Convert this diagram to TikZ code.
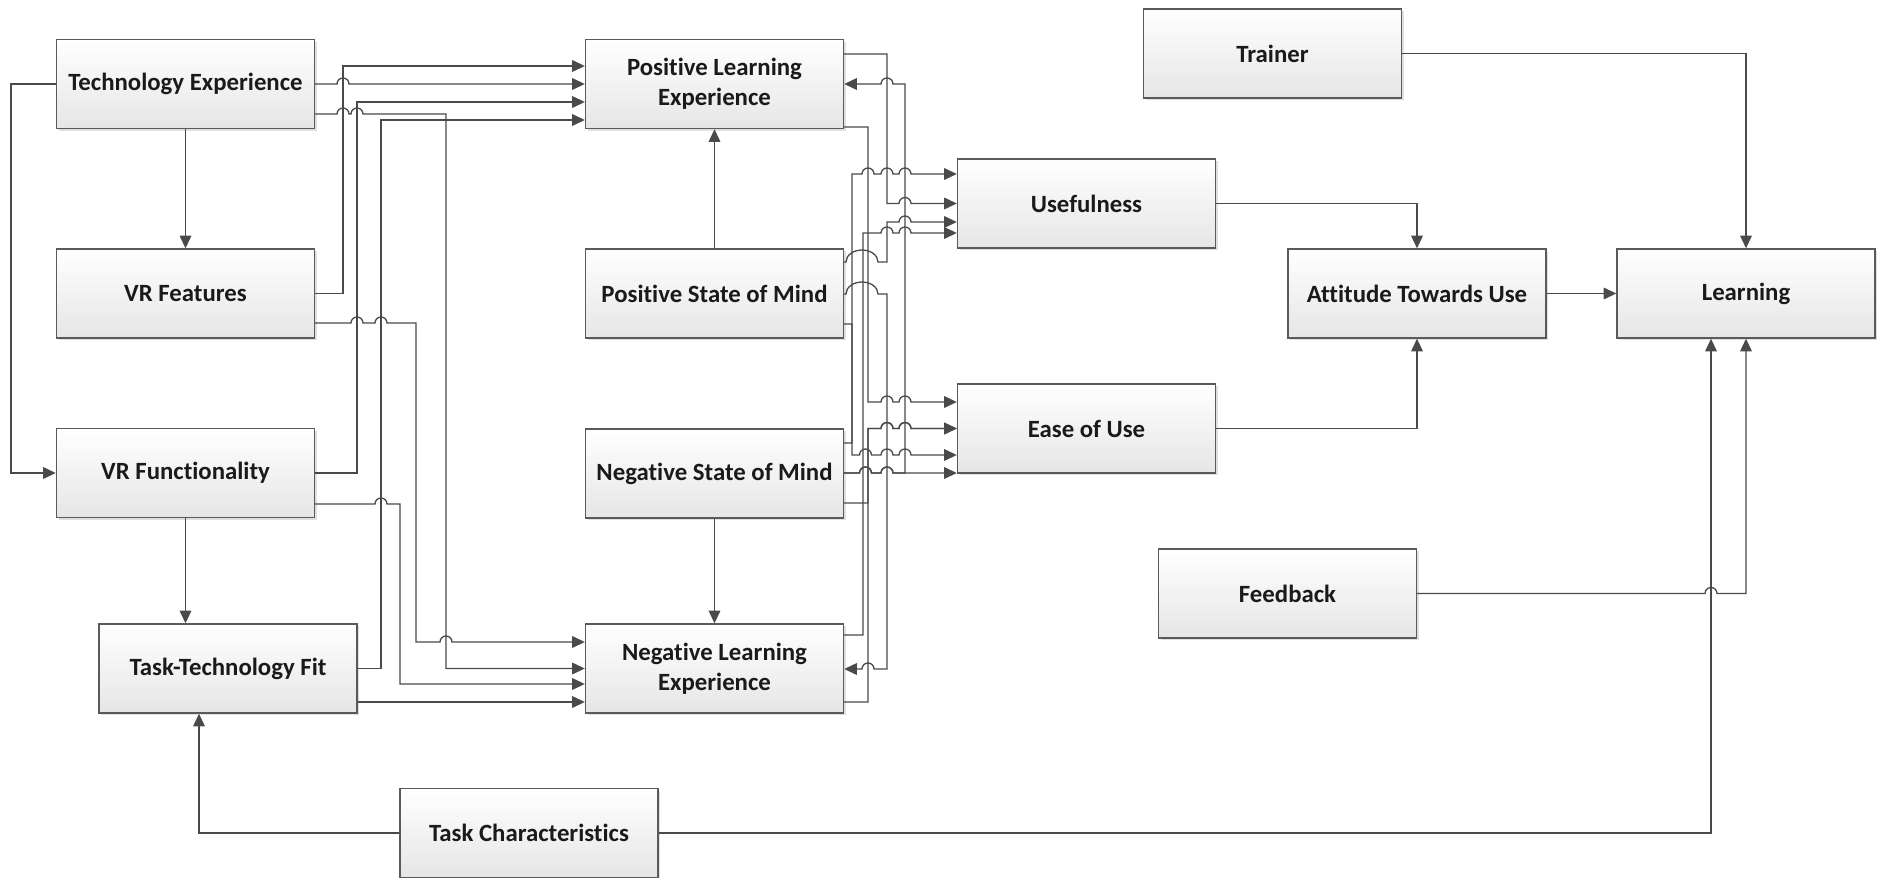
\documentclass[tikz,border=0pt]{standalone}
\usepackage{fontspec}
\setmainfont{Carlito}[Ligatures=NoCommon]
\usetikzlibrary{arrows.meta,shadows,calc}

\definecolor{linec}{HTML}{4A4A4A}
\definecolor{boxc}{HTML}{5A5A5A}
\definecolor{textc}{HTML}{1A1A1A}

\tikzset{
  box/.style={draw=boxc, line width=0.7pt, top color=white, bottom color=black!10,
    minimum width=129pt, minimum height=44.5pt, inner sep=0pt, align=center,
    text=textc, font=\bfseries\fontsize{12.4}{15}\selectfont,
    drop shadow={shadow xshift=1pt, shadow yshift=-1.2pt, opacity=0.2, fill=black!60}},
  conn/.style={draw=linec, line width=0.65pt},
  arr/.style={conn, -{Triangle[length=6.3pt,width=5.8pt]}},
  % line jumps over a crossing connector
  hop/.style={insert path={arc[start angle=180,end angle=0,radius=3pt]}},
  hopl/.style={insert path={arc[start angle=0,end angle=180,radius=3pt]}},
  bighop/.style={insert path={arc[start angle=180,end angle=0,x radius=8pt,y radius=6pt]}},
}

\begin{document}
\begin{tikzpicture}[x=0.5pt,y=-0.5pt]
\useasboundingbox (0,0) rectangle (1885,878);
\fill[white] (0,0) rectangle (1885,878);

% boxes
\node[box] (te)      at (185.5,84)    {Technology Experience};
\node[box] (vrf)     at (185.5,293.5) {VR Features};
\node[box] (vrfunc)  at (185.5,473)   {VR Functionality};
\node[box] (ttf)     at (228,668.5)   {Task-Technology Fit};
\node[box] (tc)      at (529,833)     {Task Characteristics};
\node[box] (ple)     at (714.5,84)    {Positive Learning\\Experience};
\node[box] (psom)    at (714.5,293.5) {Positive State of Mind};
\node[box] (nsom)    at (714.5,473.5) {Negative State of Mind};
\node[box] (nle)     at (714.5,668.5) {Negative Learning\\Experience};
\node[box] (use)     at (1086.5,203.5){Usefulness};
\node[box] (ease)    at (1086.5,428.5){Ease of Use};
\node[box] (trainer) at (1272.5,53.5) {Trainer};
\node[box] (att)     at (1417,293.5)  {Attitude Towards Use};
\node[box] (learn)   at (1746,293.5)  {Learning};
\node[box] (fb)      at (1287.5,593.5){Feedback};

% left group
\draw[arr] (te.west) -- (11,84) |- (vrfunc.west);
\draw[arr] (te.south) -- (vrf.north);
\draw[arr] (te.east) -- (337,84) [hop] -- (ple.west);
\draw[arr] (vrf.east) -- (343,293.5) -- (343,66) -- (ple.west |- 0,66);
\draw[arr] (vrfunc.east) -- (357,473) -- (357,102) -- (ple.west |- 0,102);
\draw[arr] (ttf.east) -- (381,668.5) -- (381,120) -- (ple.west |- 0,120);
\draw[arr] (te.east |- 0,114) -- (337,114) [hop] -- (351,114) [hop] -- (446,114) |- (nle.west);
\draw[arr] (vrf.east |- 0,323) -- (351,323) [hop] -- (375,323) [hop] -- (416,323)
  -- (416,642) -- (440,642) [hop] -- (nle.west |- 0,642);
\draw[arr] (vrfunc.east |- 0,504) -- (375,504) [hop] -- (400,504) |- (nle.west |- 0,684);
\draw[arr] (ttf.east |- 0,702) -- (nle.west |- 0,702);
\draw[arr] (vrfunc.south) -- (vrfunc.south |- ttf.north);
\draw[arr] (tc.west) -| ([xshift=-14.5pt]ttf.south);

% state of mind to learning experience
\draw[arr] (psom.north) -- (ple.south);
\draw[arr] (nsom.south) -- (nle.north);

% middle group
\draw[arr] (ple.east |- 0,54) -- (887,54) -- (887,203.5) -- (899,203.5) [hop] -- (use.west);
\draw[arr] (nsom.east |- 0,473) -- (859.5,473) [hop] -- (881,473) [hop] -- (905,473)
  -- (905,84) -- (893,84) [hopl] -- (ple.east);
\draw[arr] (ple.east |- 0,127) -- (868,127) -- (868,402) -- (881,402) [hop] -- (899,402) [hop]
  -- (ease.west |- 0,402);
\draw[arr] (nsom.east |- 0,443) -- (852,443) -- (852,174) -- (862,174) [hop] -- (881,174) [hop]
  -- (899,174) [hop] -- (use.west |- 0,174);
\draw[arr] (psom.east |- 0,262) -- (846,262) [bighop] -- (887,262) -- (887,222) -- (899,222) [hop]
  -- (use.west |- 0,222);
\draw[arr] (nle.east |- 0,635) -- (863,635) -- (863,233) -- (881,233) [hop] -- (899,233) [hop]
  -- (use.west |- 0,233);
\draw[arr] (psom.east |- 0,294) -- (846,294) [bighop] -- (887,294) -- (887,669) -- (874,669) [hopl]
  -- (nle.east |- 0,669);
\draw[arr] (psom.east |- 0,324) -- (852,324) -- (852,455) -- (859.5,455) [hop] -- (881,455) [hop]
  -- (899,455) [hop] -- (ease.west |- 0,455);
\draw[arr] (nsom.east |- 0,473) -- (859.5,473) [hop] -- (881,473) [hop] -- (ease.west |- 0,473);
\draw[arr] (nle.east |- 0,702) -- (868,702) -- (868,428.5) -- (881,428.5) [hop] -- (899,428.5) [hop]
  -- (ease.west);
\draw[arr] (nsom.east |- 0,503) -- (868,503) -- (868,428.5) -- (881,428.5) [hop] -- (899,428.5) [hop]
  -- (ease.west);

% right group
\draw[arr] (use.east) -| (att.north);
\draw[arr] (ease.east) -| (att.south);
\draw[arr] (att.east) -- (learn.west);
\draw[arr] (trainer.east) -| (learn.north);
\draw[arr] (fb.east) -- (1705,593.5) [hop] -| (learn.south);
\draw[arr] (tc.east) -| ([xshift=-17.5pt]learn.south);
\end{tikzpicture}
\end{document}
